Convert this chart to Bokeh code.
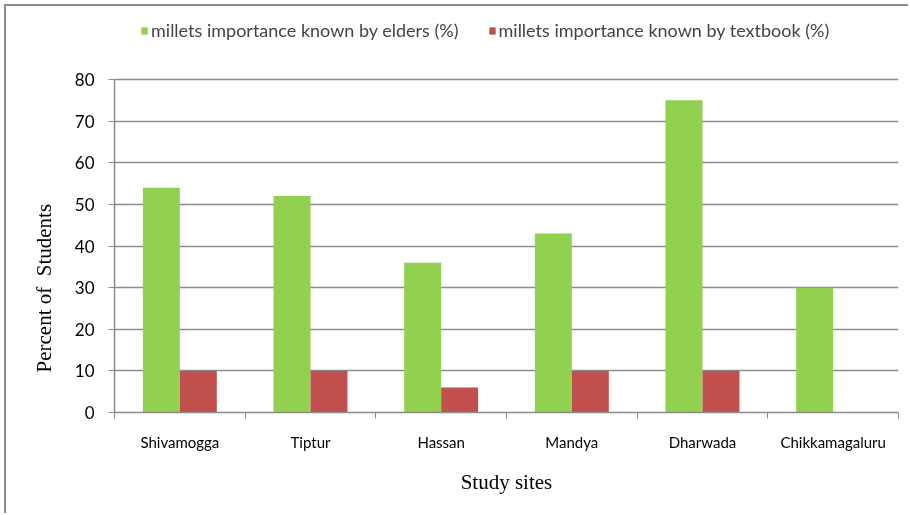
import numpy as np
from bokeh.plotting import figure
from bokeh.models import ColumnDataSource, FixedTicker, Legend, LegendItem, Range1d, Title
from bokeh.embed import file_html
from bokeh.resources import INLINE

sites = ["Shivamogga", "Tiptur", "Hassan", "Mandya", "Dharwada", "Chikkamagaluru"]
elders = [54, 52, 36, 43, 75, 30]
textbook = [10, 10, 6, 10, 10, 0]
y_ticks = [0, 10, 20, 30, 40, 50, 60, 70, 80]
y_max = 80
series_names = ["millets importance known by elders (%)", "millets importance known by textbook (%)"]
x_title = "Study sites"
y_title = "Percent of\u00a0 Students"

GREEN = "#92D050"
RED = "#C0504D"
GRID = "#8C8C8C"

# layout (page pixels)
OFF = 6                 # canvas offset (outer border drawn by css shadow)
FRAME_TOP_PAGE = 10     # frame extends up so the legend can live inside it
Y80_PAGE = 79
Y0_PAGE = 412
y_end = y_max * (Y0_PAGE - FRAME_TOP_PAGE) / (Y0_PAGE - Y80_PAGE)

centers = np.arange(len(sites)) + 0.5
bw = 0.283
src = ColumnDataSource(dict(
    xg=centers - bw / 2,
    xr=centers + bw / 2,
    elders=elders,
    textbook=textbook,
))

p = figure(width=910 - OFF, height=515 - OFF, output_backend="svg", toolbar_location=None,
           x_range=Range1d(0, len(sites)), y_range=Range1d(0, y_end),
           min_border_left=114 - OFF, min_border_right=12,
           min_border_top=FRAME_TOP_PAGE - OFF, min_border_bottom=515 - Y0_PAGE)
p.title.visible = False
p.outline_line_color = None
p.background_fill_color = "white"
p.border_fill_color = "white"
p.styles = {"position": "fixed", "left": f"{OFF}px", "top": f"{OFF}px",
            "box-shadow": f"-2px -2px 0 0 #8C8C8C, -{OFF}px -{OFF}px 0 0 #FFFFFF"}

rg = p.vbar(x="xg", top="elders", width=bw, source=src, fill_color=GREEN, line_color=None)
rr = p.vbar(x="xr", top="textbook", width=bw, source=src, fill_color=RED, line_color=None)

# x axis
p.xaxis.ticker = FixedTicker(ticks=list(centers), minor_ticks=list(range(len(sites) + 1)))
p.xaxis.major_label_overrides = {float(c): s for c, s in zip(centers, sites)}
p.xaxis.major_tick_line_color = None
p.xaxis.minor_tick_line_color = GRID
p.xaxis.minor_tick_out = 6
p.xaxis.minor_tick_in = 0
p.xaxis.axis_line_color = GRID
p.xaxis.axis_line_width = 1.5
p.xaxis.major_label_text_font = "Lato"
p.xaxis.major_label_text_font_size = "15px"
p.xaxis.major_label_text_color = "black"
p.xaxis.major_label_standoff = 14
p.xaxis.axis_label = x_title
p.xaxis.axis_label_text_font = "Liberation Serif"
p.xaxis.axis_label_text_font_style = "normal"
p.xaxis.axis_label_text_font_size = "21px"
p.xaxis.axis_label_text_color = "black"
p.xaxis.axis_label_standoff = 16
p.xgrid.grid_line_color = None

# y axis
p.yaxis.ticker = FixedTicker(ticks=y_ticks)
p.yaxis.bounds = (0, y_max)
p.yaxis.axis_line_color = GRID
p.yaxis.axis_line_width = 1.5
p.yaxis.major_tick_line_color = GRID
p.yaxis.major_tick_out = 6
p.yaxis.major_tick_in = 0
p.yaxis.minor_tick_line_color = None
p.yaxis.major_label_text_font = "Lato"
p.yaxis.major_label_text_font_size = "17px"
p.yaxis.major_label_text_color = "black"
p.yaxis.major_label_standoff = 14
p.ygrid.grid_line_color = GRID
p.ygrid.grid_line_width = 1.5

# y axis title as a side-panel title so it can sit low like the original
p.add_layout(Title(text=y_title, align="left", offset=40, standoff=32,
                   text_font="Liberation Serif", text_font_style="normal",
                   text_font_size="21px", text_color="black"), "left")

legend = Legend(items=[LegendItem(label=series_names[0], renderers=[rg]),
                       LegendItem(label=series_names[1], renderers=[rr])],
                orientation="horizontal", location=(26, Y0_PAGE - 41),
                label_text_font="Lato", label_text_font_size="18px",
                label_height=20, glyph_width=8, glyph_height=9, label_standoff=3, spacing=29,
                padding=0, margin=0, border_line_color=None, background_fill_alpha=0)
p.add_layout(legend, "center")

open("out.html", "w").write(file_html(p, INLINE))
